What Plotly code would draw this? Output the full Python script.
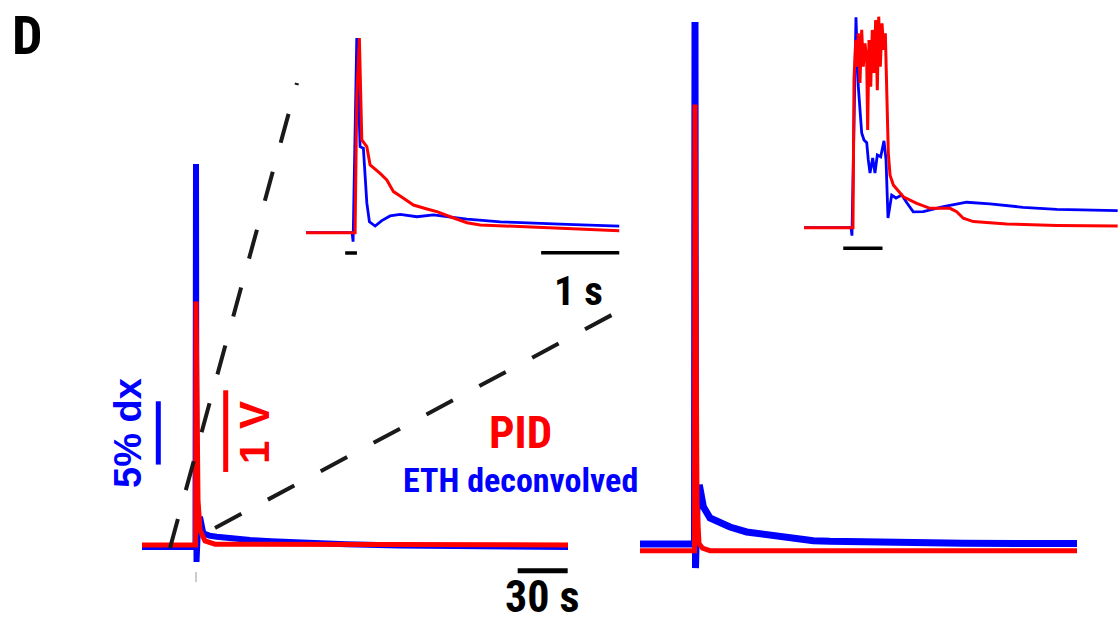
import plotly.graph_objects as go

W, H = 1119, 624

# ---------------- data ----------------
# Main panel 1 (time in s relative to stimulus; blue in % dx, red in V)
m1_blue_t = [-32.4, -0.3, 0.0, 0.3, 1.2, 2.4, 4.4, 8.0, 12.4, 20.0, 32.4, 45.0, 62.4, 90.0, 122.0, 180.0, 223.2]
m1_blue_v = [0.0, 0.0, 30.25, -1.18, 1.6, 2.39, 1.08, 0.90, 0.81, 0.68, 0.55, 0.45, 0.34, 0.22, 0.12, 0.04, 0.0]
m1_red_t = [-32.4, -0.3, 0.0, 1.2, 2.4, 5.4, 11.4, 223.2]
m1_red_v = [0.0, 0.0, 2.98, 0.55, 0.18, 0.05, 0.01, 0.0]

# Main panel 2
m2_blue_t = [-33.0, -0.3, 0.0, 0.3, 1.2, 2.6, 5.0, 9.0, 15.0, 21.0, 31.0, 41.0, 51.0, 61.0, 71.0,
             81.0, 101.0, 121.0, 161.0, 229.2]
m2_blue_v = [0.0, 0.0, 41.23, -1.90, 3.0, 4.66, 2.95, 2.05, 1.66, 1.34, 0.95, 0.77, 0.55, 0.39, 0.26,
             0.21, 0.16, 0.10, 0.06, 0.03]
m2_red_t = [-33.0, -0.3, 0.0, 1.2, 2.4, 4.5, 9.0, 229.2]
m2_red_v = [0.0, 0.0, 5.46, 0.58, 0.09, 0.03, 0.0, 0.0]

# Inset 1 (time in s, normalised to peak)
i1_blue_t = [-0.5, 0.088, 0.101, 0.148, 0.19, 0.232, 0.276, 0.309, 0.382, 0.467, 0.573, 0.701,
             0.915, 1.127, 1.298, 1.554, 1.979, 2.405, 2.832, 3.5]
i1_blue_v = [0.0, 0.0, -0.046, 1.0, 0.442, 0.434, 0.153, 0.056, 0.034, 0.062, 0.086, 0.094,
             0.082, 0.091, 0.082, 0.070, 0.056, 0.048, 0.043, 0.034]
i1_red_t = [-0.5, 0.126, 0.148, 0.181, 0.212, 0.254, 0.276, 0.318, 0.446, 0.531, 0.616, 0.744,
            0.871, 1.043, 1.170, 1.340, 1.554, 1.724, 2.405, 3.5]
i1_red_v = [0.0, 0.0, 0.70, 1.0, 0.476, 0.45, 0.442, 0.348, 0.305, 0.271, 0.211, 0.177,
            0.142, 0.122, 0.108, 0.082, 0.051, 0.040, 0.028, 0.010]

# Inset 2
i2_blue_t = [-0.5, 0.099, 0.111, 0.162, 0.192, 0.213, 0.235, 0.264, 0.299, 0.319, 0.341, 0.375,
             0.404, 0.434, 0.477, 0.519, 0.545, 0.570, 0.617, 0.672, 0.745, 0.812, 0.892, 1.020,
             1.275, 1.573, 1.869, 2.290, 2.719, 3.496]
i2_blue_v = [0.0, 0.0, -0.038, 1.0, 0.670, 0.536, 0.450, 0.417, 0.404, 0.322, 0.260, 0.331,
             0.260, 0.346, 0.337, 0.413, 0.322, 0.046, 0.155, 0.141, 0.155, 0.117, 0.075, 0.076,
             0.100, 0.121, 0.113, 0.097, 0.087, 0.081]
i2_red_t = [-0.5, 0.124, 0.137, 0.159, 0.171, 0.192, 0.213, 0.235, 0.255, 0.277, 0.299, 0.311,
            0.328, 0.350, 0.370, 0.392, 0.413, 0.434, 0.452, 0.472, 0.494, 0.515, 0.536, 0.554,
            0.574, 0.596, 0.638, 0.765, 0.936, 1.105, 1.360, 1.445, 1.529, 1.657, 2.082, 2.719, 3.496]
i2_red_v = [0.0, 0.0, 0.702, 0.892, 0.765, 0.924, 0.688, 0.940, 0.765, 0.876, 0.797, 0.464,
            0.892, 0.670, 0.940, 0.735, 0.987, 0.654, 1.003, 0.765, 0.971, 0.845, 0.924, 0.607,
            0.355, 0.250, 0.203, 0.147, 0.116, 0.092, 0.092, 0.076, 0.045, 0.029, 0.018, 0.011, 0.008]

# scale bars / stimulus bars (data units)
bar_main_s = 30.0       # s
bar_inset_s = 1.0       # s
bar_dx = 5.0            # % dx
bar_volt = 1.0          # V
stim1_s = 0.15
stim2_s = 0.5

# ---------------- figure ----------------
BLUE = "#0000ff"
RED = "#ff0000"
NARROW = "Liberation Sans Narrow, Roboto Condensed, Lato, sans-serif"
WIDE = "Liberation Sans, Arial, sans-serif"

def px(x):
    return x / W

def py(y):
    return 1 - y / H

fig = go.Figure()

fig.add_trace(go.Scatter(x=m1_blue_t, y=m1_blue_v, xaxis="x", yaxis="y", mode="lines",
                         line=dict(color=BLUE, width=6)))
fig.add_trace(go.Scatter(x=m1_red_t, y=m1_red_v, xaxis="x", yaxis="y2", mode="lines",
                         line=dict(color=RED, width=5)))
fig.add_trace(go.Scatter(x=m2_blue_t, y=m2_blue_v, xaxis="x2", yaxis="y3", mode="lines",
                         line=dict(color=BLUE, width=7)))
fig.add_trace(go.Scatter(x=m2_red_t, y=m2_red_v, xaxis="x2", yaxis="y4", mode="lines",
                         line=dict(color=RED, width=5)))
fig.add_trace(go.Scatter(x=i1_blue_t, y=i1_blue_v, xaxis="x3", yaxis="y5", mode="lines",
                         line=dict(color=BLUE, width=2.8)))
fig.add_trace(go.Scatter(x=i1_red_t, y=i1_red_v, xaxis="x3", yaxis="y5", mode="lines",
                         line=dict(color=RED, width=3)))
fig.add_trace(go.Scatter(x=i2_blue_t, y=i2_blue_v, xaxis="x4", yaxis="y6", mode="lines",
                         line=dict(color=BLUE, width=2.8)))
fig.add_trace(go.Scatter(x=i2_red_t, y=i2_red_v, xaxis="x4", yaxis="y6", mode="lines",
                         line=dict(color=RED, width=3)))

hid = dict(visible=False, showgrid=False, zeroline=False, fixedrange=True)

def yrange(base_px, px_per_unit):
    return [(base_px - H) / px_per_unit, base_px / px_per_unit]

fig.update_layout(
    width=W, height=H, margin=dict(l=0, r=0, t=0, b=0),
    paper_bgcolor="white", plot_bgcolor="rgba(0,0,0,0)", showlegend=False,
    xaxis=dict(domain=[px(142), px(568)], range=[-32.4, 223.2], anchor="y", **hid),
    yaxis=dict(domain=[0, 1], range=yrange(547, 12.66), anchor="x", **hid),
    yaxis2=dict(domain=[0, 1], range=yrange(545, 81.7), anchor="x", overlaying="y", **hid),
    xaxis2=dict(domain=[px(640), px(1077)], range=[-33.0, 229.2], anchor="y3", **hid),
    yaxis3=dict(domain=[0, 1], range=yrange(544, 12.66), anchor="x2", **hid),
    yaxis4=dict(domain=[0, 1], range=yrange(550.7, 81.7), anchor="x2", overlaying="y3", **hid),
    xaxis3=dict(domain=[px(306), px(619.5)], range=[-0.5, 3.5], anchor="y5", **hid),
    yaxis5=dict(domain=[0, 1], range=yrange(232.7, 194.7), anchor="x3", **hid),
    xaxis4=dict(domain=[px(804), px(1118)], range=[-0.5, 3.5], anchor="y6", **hid),
    yaxis6=dict(domain=[0, 1], range=yrange(227.7, 210.4), anchor="x4", **hid),
)

shapes = []
# dashed zoom lines
dash = dict(color="#1a1a1a", width=4, dash="30px,30px")
shapes.append(dict(type="line", xref="paper", yref="paper", x0=px(170), y0=py(548),
                   x1=px(297), y1=py(83), line=dash))
shapes.append(dict(type="line", xref="paper", yref="paper", x0=px(215), y0=py(528),
                   x1=px(621), y1=py(310), line=dash))
# 30 s bar
t_end = 223.0
shapes.append(dict(type="line", xref="x", yref="paper", x0=t_end - bar_main_s, x1=t_end,
                   y0=py(570.7), y1=py(570.7), line=dict(color="black", width=5)))
# 1 s bar inset 1
shapes.append(dict(type="line", xref="x3", yref="paper", x0=3.5 - bar_inset_s, x1=3.5,
                   y0=py(252.7), y1=py(252.7), line=dict(color="black", width=3.5)))
# stimulus bars
shapes.append(dict(type="line", xref="x3", yref="paper", x0=0, x1=stim1_s,
                   y0=py(253), y1=py(253), line=dict(color="black", width=3.5)))
shapes.append(dict(type="line", xref="x4", yref="paper", x0=0, x1=stim2_s,
                   y0=py(248.3), y1=py(248.3), line=dict(color="black", width=3.5)))
# 5 % dx bar
shapes.append(dict(type="line", xref="paper", yref="y", x0=px(158.3), x1=px(158.3),
                   y0=6.51, y1=6.51 + bar_dx, line=dict(color=BLUE, width=5)))
# 1 V bar
shapes.append(dict(type="line", xref="paper", yref="y2", x0=px(225.7), x1=px(225.7),
                   y0=0.894, y1=0.894 + bar_volt, line=dict(color=RED, width=5)))
# grey tick under panel 1
shapes.append(dict(type="line", xref="x", yref="paper", x0=0, x1=0, y0=py(572), y1=py(582),
                   line=dict(color="#cccccc", width=2)))
fig.update_layout(shapes=shapes)

def ann(text, x, y, size, color, family=NARROW, angle=0):
    return dict(text=text, x=px(x), y=py(y), xref="paper", yref="paper", showarrow=False,
                xanchor="center", yanchor="middle", textangle=angle,
                font=dict(family=family, size=size, color=color))

fig.update_layout(annotations=[
    ann("<b>D</b>", 27.5, 35, 54, "black"),
    ann("<b>1 s</b>", 578, 291, 41, "black"),
    ann("<b>30 s</b>", 542, 597, 44, "black"),
    ann("<b>PID</b>", 520, 432, 45, RED),
    ann("<b>ETH deconvolved</b>", 520, 480, 34, BLUE),
    ann("<b>5% dx</b>", 128, 433, 38, BLUE, family=WIDE, angle=-90),
    ann("<b>1 V</b>", 254, 433, 42, RED, family=WIDE, angle=-90),
])

fig.write_html("out.html")
